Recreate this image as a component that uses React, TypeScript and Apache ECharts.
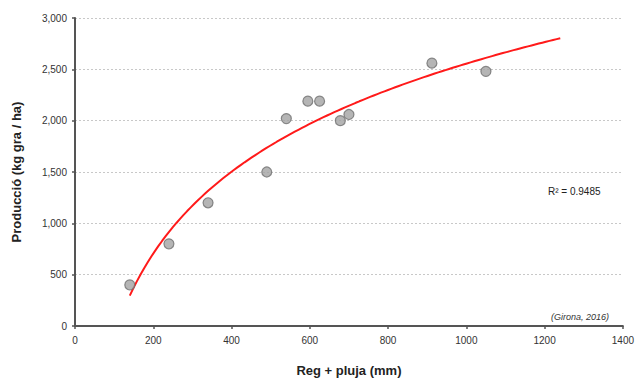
import React, { useEffect, useRef } from "react";
import * as echarts from "echarts";

const waterMm = [140, 240, 340, 490, 540, 595, 625, 678, 700, 912, 1050];
const yieldKg = [400, 800, 1200, 1500, 2020, 2190, 2190, 2000, 2060, 2560, 2480];
const trendRange = [140, 1240];
const xTicks = [0, 200, 400, 600, 800, 1000, 1200, 1400];
const yTicks = [0, 500, 1000, 1500, 2000, 2500, 3000];
const r2Label = "R² = 0.9485";
const sourceLabel = "(Girona, 2016)";

function logFit(xs: number[], ys: number[]) {
  const n = xs.length;
  const lx = xs.map((v) => Math.log(v));
  const mx = lx.reduce((a, b) => a + b, 0) / n;
  const my = ys.reduce((a, b) => a + b, 0) / n;
  let sxy = 0, sxx = 0;
  for (let i = 0; i < n; i++) {
    sxy += (lx[i] - mx) * (ys[i] - my);
    sxx += (lx[i] - mx) * (lx[i] - mx);
  }
  const a = sxy / sxx;
  return { a, b: my - a * mx };
}

export default function App() {
  const ref = useRef<HTMLDivElement>(null);
  useEffect(() => {
    if (!ref.current) return;
    const chart = echarts.init(ref.current, undefined, { renderer: "svg" });
    const { a, b } = logFit(waterMm, yieldKg);
    const trend: number[][] = [];
    const steps = 120;
    for (let i = 0; i <= steps; i++) {
      const x = trendRange[0] + ((trendRange[1] - trendRange[0]) * i) / steps;
      trend.push([x, a * Math.log(x) + b]);
    }
    const font = "'Liberation Sans', Arial, sans-serif";
    chart.setOption({
      animation: false,
      backgroundColor: "#fff",
      textStyle: { fontFamily: font },
      grid: { left: 75, right: 12, top: 18, bottom: 54 },
      xAxis: {
        type: "value",
        min: xTicks[0],
        max: xTicks[xTicks.length - 1],
        interval: 200,
        name: "Reg + pluja (mm)",
        nameLocation: "middle",
        nameGap: 38,
        nameTextStyle: { fontSize: 13, fontWeight: "bold", color: "#222", fontFamily: font },
        axisLine: { lineStyle: { color: "#555", width: 2 } },
        axisTick: { show: true, length: 3, lineStyle: { color: "#555", width: 1.5 } },
        axisLabel: { fontSize: 10, color: "#333", margin: 9, fontFamily: font, formatter: (v: number) => String(v) },
        splitLine: { show: false },
      },
      yAxis: {
        type: "value",
        min: yTicks[0],
        max: yTicks[yTicks.length - 1],
        interval: 500,
        name: "Producció (kg gra / ha)",
        nameLocation: "middle",
        nameGap: 52,
        nameTextStyle: { fontSize: 13, fontWeight: "bold", color: "#222", fontFamily: font },
        axisLine: { show: true, lineStyle: { color: "#555", width: 2 } },
        axisTick: { show: true, length: 3, lineStyle: { color: "#555", width: 1.5 } },
        axisLabel: {
          fontSize: 10,
          color: "#333",
          margin: 8,
          fontFamily: font,
          formatter: (v: number) => v.toLocaleString("en-US"),
        },
        splitLine: { show: true, lineStyle: { color: "#c8c8c8", type: [2, 2], width: 1 } },
      },
      series: [
        {
          type: "line",
          data: trend,
          showSymbol: false,
          symbol: "none",
          lineStyle: { color: "#ff1a1a", width: 2 },
          z: 2,
        },
        {
          type: "scatter",
          data: waterMm.map((x, i) => [x, yieldKg[i]]),
          symbol: "circle",
          symbolSize: 10,
          itemStyle: { color: "#a3a3a3", borderColor: "#707070", borderWidth: 1.2 },
          z: 3,
        },
      ],
      graphic: [
        {
          type: "text",
          left: 548,
          top: 186,
          style: { text: r2Label, fill: "#222", font: `10px ${font}` },
        },
        {
          type: "text",
          left: 551,
          top: 312,
          style: { text: sourceLabel, fill: "#333", font: `italic 9px ${font}` },
        },
      ],
    });
    return () => chart.dispose();
  }, []);
  return (
    <div
      ref={ref}
      style={{ position: "fixed", left: 0, top: 0, width: 637, height: 382 }}
    />
  );
}
